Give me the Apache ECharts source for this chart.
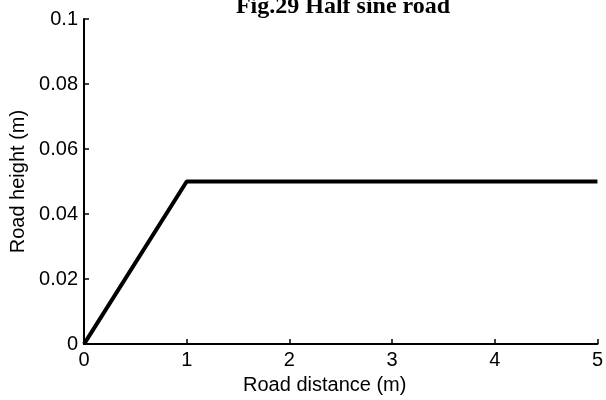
<!DOCTYPE html>
<html>
<head>
<meta charset="utf-8">
<script src="https://cdn.jsdelivr.net/npm/echarts@6/dist/echarts.min.js"></script>
<style>
  html, body { margin: 0; padding: 0; background: #fff; }
  #chart { width: 606px; height: 400px; }
</style>
</head>
<body>
<div id="chart"></div>
<script>
// road profile: ramp up to 0.05 m at 1 m, then flat
const distance = [0, 1, 5];
const height = [0, 0.05, 0.05];

const xTicks = { min: 0, max: 5, interval: 1 };
const yTicks = { min: 0, max: 0.1, interval: 0.02 };

const FONT = 'Liberation Sans';

const chart = echarts.init(document.getElementById('chart'), null, { renderer: 'canvas' });

const axisCommon = {
  axisLine: { show: true, lineStyle: { color: '#000', width: 2 } },
  axisTick: { show: true, inside: true, length: 5, lineStyle: { color: '#000', width: 1.5 } },
  axisLabel: { color: '#000', fontFamily: FONT, fontSize: 20, margin: 6 },
  splitLine: { show: false },
  nameTextStyle: { color: '#000', fontFamily: FONT, fontSize: 20 }
};

chart.setOption({
  animation: false,
  backgroundColor: '#fff',
  title: {
    text: 'Fig.29 Half sine road',
    left: 338,
    top: -10,
    textAlign: 'center',
    textStyle: { fontFamily: 'Liberation Serif', fontWeight: 'bold', fontSize: 24, color: '#000' }
  },
  grid: { left: 83, right: 4, top: 19, bottom: 43, containLabel: false },
  xAxis: {
    type: 'value',
    ...axisCommon,
    min: xTicks.min, max: xTicks.max, interval: xTicks.interval,
    name: 'Road distance (m)',
    nameLocation: 'middle',
    nameGap: 17,
    nameTextStyle: { ...axisCommon.nameTextStyle, padding: [0, 32, 0, 0] }
  },
  yAxis: {
    type: 'value',
    ...axisCommon,
    min: yTicks.min, max: yTicks.max, interval: yTicks.interval,
    name: 'Road height (m)',
    nameLocation: 'middle',
    nameRotate: 90,
    nameGap: 56
  },
  series: [{
    type: 'line',
    data: distance.map((d, i) => [d, height[i]]),
    symbol: 'none',
    lineStyle: { color: '#000', width: 4 },
    clip: false
  }]
});
</script>
</body>
</html>
